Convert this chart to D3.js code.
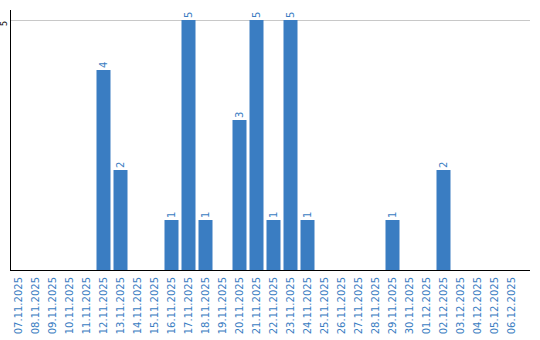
<!DOCTYPE html>
<html>
<head>
<meta charset="utf-8">
<script src="https://cdn.jsdelivr.net/npm/d3@7"></script>
<style>
body { margin: 0; background: #fff; }
</style>
</head>
<body>
<div id="chart"></div>
<script>
let dates = ['07.11.2025','08.11.2025','09.11.2025','10.11.2025','11.11.2025','12.11.2025','13.11.2025','14.11.2025','15.11.2025','16.11.2025',
	'17.11.2025','18.11.2025','19.11.2025','20.11.2025','21.11.2025','22.11.2025','23.11.2025','24.11.2025','25.11.2025','26.11.2025',
	'27.11.2025','28.11.2025','29.11.2025','30.11.2025','01.12.2025','02.12.2025','03.12.2025','04.12.2025','05.12.2025','06.12.2025'];
let counts = [0,0,0,0,0,4,2,0,0,1,
	5,1,0,3,5,1,5,1,0,0,
	0,0,1,0,0,2,0,0,0,0];
let yTicks = [5];

let width = 540;
let height = 340;
let blue = '#3a7dc2';

let svg = d3.select('#chart')
	.append('svg')
	.attr('width', width)
	.attr('height', height)
	.style('font-family', 'DejaVu Sans, sans-serif');

let x = d3.scaleBand()
	.domain(dates)
	.range([10, 520])
	.paddingInner(3/17)
	.paddingOuter(1.5/17);

let y = d3.scaleLinear()
	.domain([0, 5.2])
	.range([270, 10]);

// grid line
svg.selectAll('.grid')
	.data(yTicks)
	.enter()
	.append('line')
	.attr('x1', 10)
	.attr('x2', 530)
	.attr('y1', d => y(d) + 0.5)
	.attr('y2', d => y(d) + 0.5)
	.attr('stroke', '#c8c8c8')
	.attr('stroke-width', 1);

// y tick labels
svg.selectAll('.ytick')
	.data(yTicks)
	.enter()
	.append('text')
	.attr('transform', d => 'translate(7,' + (y(d) + 3.5) + ') rotate(-90)')
	.attr('text-anchor', 'middle')
	.attr('font-size', 8)
	.attr('fill', '#000')
	.text(d => d);

// bars
svg.append('g')
	.selectAll('rect')
	.data(dates)
	.enter()
	.append('rect')
	.attr('x', d => x(d))
	.attr('width', x.bandwidth())
	.attr('y', (d, i) => y(counts[i]))
	.attr('height', (d, i) => y(0) - y(counts[i]))
	.attr('fill', blue);

// value labels
svg.append('g')
	.selectAll('text')
	.data(dates.filter((d, i) => counts[i] > 0))
	.enter()
	.append('text')
	.attr('transform', d => 'translate(' + (x(d) + x.bandwidth()/2 + 3.5) + ',' + (y(counts[dates.indexOf(d)]) - 2) + ') rotate(-90)')
	.attr('text-anchor', 'start')
	.attr('font-size', 10)
	.attr('fill', blue)
	.text(d => counts[dates.indexOf(d)]);

// axes lines
svg.append('line')
	.attr('x1', 10.5).attr('x2', 10.5)
	.attr('y1', 10).attr('y2', 270)
	.attr('stroke', '#000')
	.attr('stroke-width', 1);

svg.append('line')
	.attr('x1', 10).attr('x2', 530)
	.attr('y1', 270.5).attr('y2', 270.5)
	.attr('stroke', '#000')
	.attr('stroke-width', 1);

// x labels
svg.append('g')
	.selectAll('text')
	.data(dates)
	.enter()
	.append('text')
	.attr('transform', d => 'translate(' + (x(d) + x.bandwidth()/2 + 3.5) + ',277) rotate(-90)')
	.attr('text-anchor', 'end')
	.attr('font-size', 10)
	.attr('fill', blue)
	.text(d => d);
</script>
</body>
</html>
